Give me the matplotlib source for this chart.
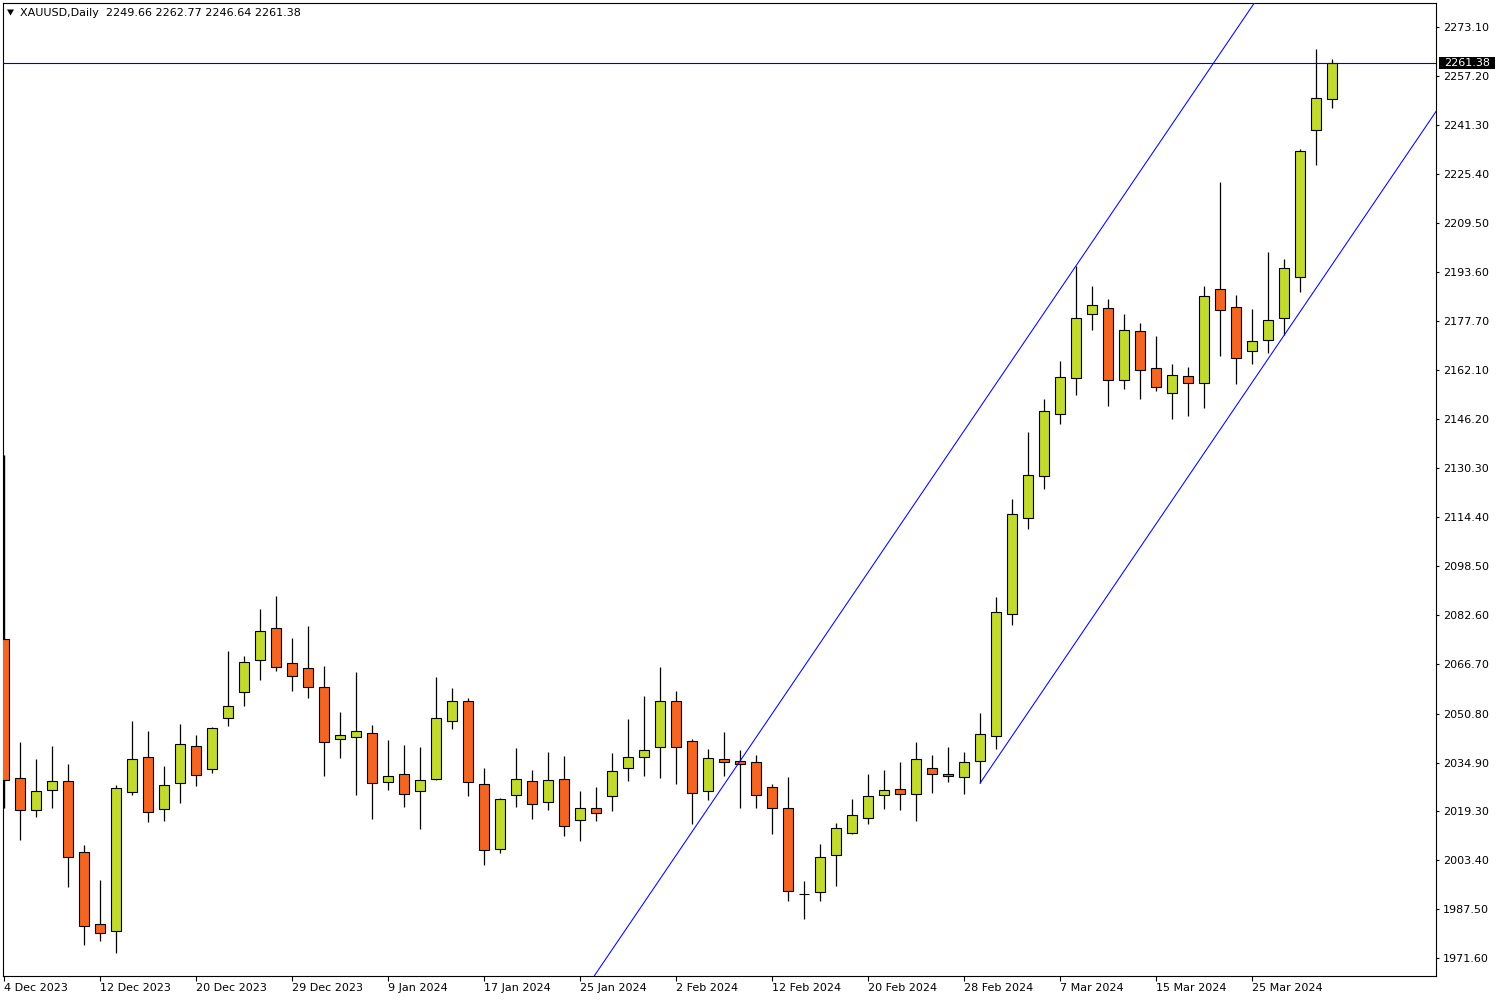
import matplotlib
matplotlib.use("Agg")
import matplotlib.pyplot as plt
from matplotlib.patches import Rectangle, Polygon
from matplotlib.transforms import blended_transform_factory

plt.rcParams['font.family'] = ['DejaVu Sans']

symbol = "XAUUSD,Daily"

opens = [2074.9, 2029.9, 2019.5, 2026.0, 2028.9, 2005.9, 1982.6, 1980.4, 2025.3, 2036.7,
         2019.8, 2028.3, 2040.2, 2032.8, 2049.3, 2057.7, 2068.1, 2078.4, 2067.1, 2065.5,
         2059.3, 2042.5, 2043.1, 2044.4, 2028.6, 2031.2, 2025.7, 2029.5, 2048.3, 2054.8,
         2027.9, 2006.9, 2024.4, 2028.9, 2022.1, 2029.5, 2016.3, 2020.2, 2024.0, 2033.1,
         2036.7, 2039.9, 2054.8, 2041.8, 2025.7, 2036.0, 2035.4, 2035.0, 2027.0, 2020.2,
         1992.4, 1993.0, 2004.9, 2012.1, 2016.9, 2024.4, 2026.3, 2024.7, 2033.1, 2031.2,
         2030.2, 2035.4, 2043.5, 2082.9, 2114.0, 2127.6, 2147.7, 2159.3, 2180.0, 2182.0,
         2158.7, 2174.5, 2162.6, 2154.5, 2160.0, 2157.7, 2188.1, 2182.3, 2168.1, 2171.6,
         2178.7, 2192.0, 2239.6, 2249.66]
highs = [2134.5, 2041.6, 2036.1, 2040.3, 2034.5, 2008.3, 1997.0, 2027.7, 2048.4, 2045.2,
         2033.9, 2047.4, 2043.9, 2046.5, 2071.1, 2069.4, 2084.7, 2088.9, 2075.2, 2079.2,
         2066.2, 2051.3, 2064.3, 2047.1, 2042.3, 2040.6, 2040.0, 2062.7, 2059.1, 2055.9,
         2033.1, 2023.4, 2039.7, 2032.6, 2038.4, 2037.1, 2025.8, 2027.1, 2038.1, 2049.1,
         2056.5, 2065.9, 2058.1, 2042.5, 2039.3, 2044.9, 2039.0, 2037.4, 2027.9, 2030.3,
         1996.6, 2008.6, 2015.4, 2023.2, 2031.3, 2032.6, 2035.1, 2041.6, 2037.4, 2040.0,
         2038.4, 2051.0, 2088.5, 2120.3, 2141.9, 2152.6, 2164.9, 2195.8, 2189.2, 2185.0,
         2180.1, 2177.2, 2173.0, 2163.9, 2163.0, 2189.2, 2222.8, 2186.2, 2181.6, 2200.2,
         2197.8, 2233.4, 2265.9, 2262.77]
lows = [2020.3, 2010.0, 2017.4, 2020.4, 1994.8, 1976.0, 1977.3, 1973.2, 2024.6, 2015.8,
        2016.1, 2022.0, 2027.5, 2031.7, 2046.9, 2053.4, 2061.8, 2064.7, 2058.2, 2056.0,
        2030.7, 2036.5, 2024.6, 2016.8, 2026.2, 2020.7, 2013.6, 2029.3, 2045.9, 2024.2,
        2001.9, 2005.8, 2020.7, 2016.8, 2019.7, 2011.3, 2009.7, 2016.1, 2019.4, 2029.1,
        2030.7, 2030.1, 2028.1, 2015.2, 2022.9, 2030.7, 2020.4, 2020.4, 2011.9, 1990.3,
        1984.4, 1990.3, 1995.1, 2011.8, 2015.2, 2020.0, 2019.7, 2016.1, 2025.2, 2028.8,
        2024.7, 2028.3, 2039.3, 2079.6, 2110.6, 2123.6, 2144.4, 2154.0, 2175.0, 2150.5,
        2156.0, 2152.7, 2155.3, 2146.2, 2147.2, 2149.8, 2166.6, 2157.4, 2163.8, 2167.6,
        2173.2, 2187.3, 2228.4, 2246.64]
closes = [2029.2, 2019.5, 2025.7, 2028.9, 2004.4, 1982.0, 1979.7, 2026.6, 2036.0, 2018.9,
          2027.6, 2040.9, 2030.8, 2046.1, 2053.2, 2067.4, 2077.4, 2065.8, 2062.9, 2059.3,
          2041.5, 2043.8, 2045.1, 2028.3, 2030.5, 2024.7, 2029.2, 2049.3, 2054.8, 2028.6,
          2006.6, 2023.1, 2029.5, 2021.5, 2029.2, 2014.3, 2020.2, 2018.5, 2032.1, 2036.7,
          2038.9, 2054.8, 2039.9, 2025.0, 2036.3, 2035.0, 2034.4, 2024.4, 2020.2, 1993.3,
          1992.2, 2004.3, 2013.7, 2017.9, 2024.0, 2026.0, 2024.7, 2036.0, 2031.2, 2030.5,
          2035.0, 2044.1, 2083.6, 2115.3, 2127.9, 2148.6, 2159.6, 2178.7, 2182.9, 2158.7,
          2174.9, 2161.9, 2156.4, 2160.3, 2157.7, 2185.9, 2181.3, 2165.8, 2171.3, 2178.1,
          2194.9, 2232.8, 2249.9, 2261.38]

x_tick_pos = [0, 6, 12, 18, 24, 30, 36, 42, 48, 54, 60, 66, 72, 78]
x_tick_labels = ["4 Dec 2023", "12 Dec 2023", "20 Dec 2023", "29 Dec 2023", "9 Jan 2024",
                 "17 Jan 2024", "25 Jan 2024", "2 Feb 2024", "12 Feb 2024", "20 Feb 2024",
                 "28 Feb 2024", "7 Mar 2024", "15 Mar 2024", "25 Mar 2024"]
y_tick_labels = ["2273.10", "2257.20", "2241.30", "2225.40", "2209.50", "2193.60", "2177.70",
                 "2162.10", "2146.20", "2130.30", "2114.40", "2098.50", "2082.60", "2066.70",
                 "2050.80", "2034.90", "2019.30", "2003.40", "1987.50", "1971.60"]

# channel anchors (bar index, price)
upper_channel = [(46, 2035.5), (67, 2195.75)]
lower_channel = [(61, 2028.3), (80, 2173.2)]
bid_price = closes[-1]

UP = '#C2D92F'
DOWN = '#F26522'
W, H = 1500, 1000

fig = plt.figure(figsize=(15, 10), dpi=100)
fig.patch.set_facecolor('white')
L, R, T, B = 2.7, 1436.0, 3.0, 975.7
ax = fig.add_axes([L / W, 1 - B / H, (R - L) / W, (B - T) / H])
ax.set_xlim(-0.1, 89.5)
ax.set_ylim(1965.98, 2280.77)

body_w = 0.6
for i, (o, h, l, c) in enumerate(zip(opens, highs, lows, closes)):
    ax.vlines(i, l, h, color='black', lw=1.0 if i == 0 else 0.9, zorder=2.7)
    lo, hi = min(o, c), max(o, c)
    if hi - lo < 0.4:
        ax.hlines((o + c) / 2, i - body_w / 2, i + body_w / 2, color='black', lw=0.8, zorder=2.8)
    else:
        ax.add_patch(Rectangle((i - body_w / 2, lo), body_w, hi - lo,
                               facecolor=UP if c >= o else DOWN,
                               edgecolor='black', lw=0.8, zorder=2.8))

# channel lines
ax.axline(upper_channel[0], upper_channel[1], color='#0000FF', lw=0.75, zorder=4)
(x0, y0), (x1, y1) = lower_channel
slope = (y1 - y0) / (x1 - x0)
xe = ax.get_xlim()[1]
ax.plot([x0, xe], [y0, y0 + slope * (xe - x0)], color='#0000FF', lw=0.75, zorder=4)

# bid line
ax.axhline(bid_price, color='#0000C8', lw=0.8, zorder=4)

for s in ax.spines.values():
    s.set_color('black')
    s.set_linewidth(0.8)

ax.set_xticks(x_tick_pos)
ax.set_xticklabels(x_tick_labels, ha='left')
ax.tick_params(axis='x', direction='out', length=3.6, width=0.8, pad=1.5,
               labelsize=8, colors='black')
ax.yaxis.tick_right()
ax.set_yticks([float(v) for v in y_tick_labels])
ax.set_yticklabels(y_tick_labels)
ax.tick_params(axis='y', direction='out', length=2.2, width=0.8, pad=3.0,
               labelsize=8, colors='black')

# bid price box on the right
tr = blended_transform_factory(ax.transAxes, ax.transData)
px_x = 1.0 / (R - L)
px_y = (ax.get_ylim()[1] - ax.get_ylim()[0]) / (B - T)
ax.add_patch(Rectangle((1.0 + 3 * px_x, bid_price - 6 * px_y), 56 * px_x, 12 * px_y,
                       transform=tr, facecolor='black', edgecolor='none',
                       clip_on=False, zorder=10))
ax.text(1.0 + 31 * px_x, bid_price, f"{bid_price:.2f}", transform=tr, color='white',
        fontsize=8, ha='center', va='center', clip_on=False, zorder=11)

# header
fig.patches.append(Polygon([[7 / W, 1 - 9.5 / H], [14 / W, 1 - 9.5 / H], [10.5 / W, 1 - 15.5 / H]],
                           closed=True, transform=fig.transFigure, facecolor='black',
                           edgecolor='none'))
fig.text(20 / W, 1 - 13 / H,
         f"{symbol}  {opens[-1]:.2f} {highs[-1]:.2f} {lows[-1]:.2f} {closes[-1]:.2f}",
         fontsize=8, va='center', ha='left', color='black')

fig.savefig('out.png', dpi=100, facecolor='white')
